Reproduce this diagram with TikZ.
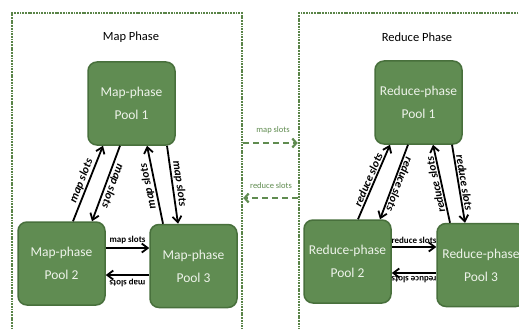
\documentclass[tikz,border=0pt]{standalone}
\usepackage{fontspec}
\setmainfont{Carlito}
\usetikzlibrary{arrows.meta,calc}
\definecolor{poolfill}{RGB}{96,140,82}
\definecolor{pooldraw}{RGB}{72,112,60}
\definecolor{pooltext}{RGB}{238,243,234}
\definecolor{boxgreen}{RGB}{90,132,72}
\definecolor{midgreen}{RGB}{96,140,80}
\tikzset{
  pool/.style={draw=pooldraw, line width=1.5pt, fill=poolfill, rounded corners=9pt,
    minimum width=87pt, minimum height=83pt, text=pooltext,
    font=\fontsize{13.5}{23}\selectfont, align=center, inner sep=0pt},
  phasebox/.style={draw=boxgreen, line width=2.4pt, dash pattern=on 1.8pt off 0.9pt,
    minimum width=230pt, minimum height=327pt, inner sep=0pt},
  flow/.style={line width=1.8pt, -{Straight Barb[length=6pt,width=9pt]}},
  dlabel/.style={font=\fontsize{11.5}{12}\selectfont\bfseries\itshape, sloped,
    allow upside down, above, inner sep=1.2pt, pos=0.5},
  hlabel/.style={font=\fontsize{9}{10}\selectfont\bfseries, sloped,
    allow upside down, above, inner sep=3pt, pos=0.5},
  midarrow/.style={draw=midgreen, line width=2.2pt, dash pattern=on 6pt off 4pt,
    -{Straight Barb[length=4pt,width=9pt]}},
  midlabel/.style={text=midgreen, font=\fontsize{8.5}{9}\selectfont, inner sep=1pt},
  phasetitle/.style={font=\fontsize{12.5}{14}\selectfont, text=black, inner sep=0pt}
}
\begin{document}
\begin{tikzpicture}[x=1pt,y=-1pt]
\useasboundingbox[fill=white] (0,0) rectangle (519,329);
\begin{scope}
\clip (0,0) rectangle (519,329);
% phase boxes
\node[phasebox] (mapbox) at (127,176.5) {};
\node[phasebox, minimum width=231pt] (redbox) at (414.5,176.5) {};
\node[phasetitle] (maptitle) at (131,37) {Map Phase};
\node[phasetitle] (redtitle) at (417,37) {Reduce Phase};

% map pools
\node[pool] (m1) at (131.5,103.5) {Map-phase\\Pool 1};
\node[pool] (m2) at (61.5,263.5) {Map-phase\\Pool 2};
\node[pool] (m3) at (193.5,266) {Map-phase\\Pool 3};

% reduce pools
\node[pool] (r1) at (418.5,102.5) {Reduce-phase\\Pool 1};
\node[pool] (r2) at (347.5,261.5) {Reduce-phase\\Pool 2};
\node[pool, minimum width=88pt] (r3) at (481,265) {Reduce-phase\\Pool 3};

% map diagonal arrows
\draw[flow] ($(m2.north)+(11.5,0)$) -- ($(m1.south)+(-28.5,0)$) node[dlabel] {map slots};
\draw[flow] ($(m1.south)+(-11.5,0)$) -- ($(m2.north)+(30.5,0)$) node[dlabel] {map slots};
\draw[flow] ($(m3.north)+(-30.5,0)$) -- ($(m1.south)+(15.5,0)$) node[dlabel] {map slots};
\draw[flow] ($(m1.south)+(35.5,0)$) -- ($(m3.north)+(-15.5,0)$) node[dlabel] {map slots};
% map horizontal arrows
\coordinate (mh1) at (0,248);
\coordinate (mh2) at (0,275);
\draw[flow] (m2.east |- mh1) -- (m3.west |- mh1) node[hlabel] {map slots};
\draw[flow] (m3.west |- mh2) -- (m2.east |- mh2) node[hlabel] {map slots};

% reduce diagonal arrows
\draw[flow] ($(r2.north)+(10.5,0)$) -- ($(r1.south)+(-28.5,0)$) node[dlabel] {reduce slots};
\draw[flow] ($(r1.south)+(-10.5,0)$) -- ($(r2.north)+(32.5,0)$) node[dlabel] {reduce slots};
\draw[flow] ($(r3.north)+(-31,0)$) -- ($(r1.south)+(14.5,0)$) node[dlabel] {reduce slots};
\draw[flow] ($(r1.south)+(33.5,0)$) -- ($(r3.north)+(-16,0)$) node[dlabel] {reduce slots};
% reduce horizontal arrows
\coordinate (rh1) at (0,247);
\coordinate (rh2) at (0,273);
\draw[flow] (r2.east |- rh1) -- (r3.west |- rh1) node[hlabel] {reduce slots};
\draw[flow] (r3.west |- rh2) -- (r2.east |- rh2) node[hlabel] {reduce slots};

% middle dashed arrows
\coordinate (c1) at (0,143);
\coordinate (c2) at (0,198);
\draw[midarrow] (mapbox.east |- c1) -- (redbox.west |- c1);
\draw[midarrow] (redbox.west |- c2) -- (mapbox.east |- c2);
\node[midlabel] (ml1) at (273,130) {map slots};
\node[midlabel] (ml2) at (271,186) {reduce slots};
\end{scope}
\end{tikzpicture}
\end{document}
